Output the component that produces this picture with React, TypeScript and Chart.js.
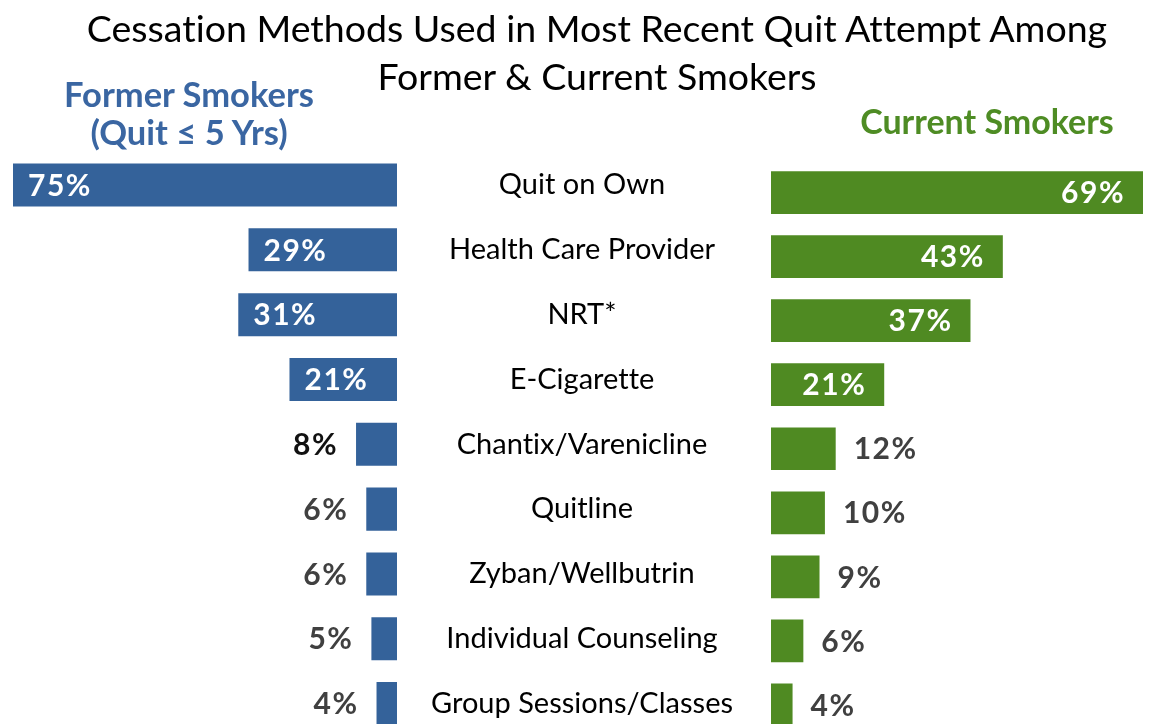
import React, { useEffect, useRef } from 'react';
import { Chart, registerables } from 'chart.js';

Chart.register(...registerables);

const categories = [
  'Quit on Own',
  'Health Care Provider',
  'NRT*',
  'E-Cigarette',
  'Chantix/Varenicline',
  'Quitline',
  'Zyban/Wellbutrin',
  'Individual Counseling',
  'Group Sessions/Classes',
];
const formerSmokers = [75, 29, 31, 21, 8, 6, 6, 5, 4];
const currentSmokers = [69, 43, 37, 21, 12, 10, 9, 6, 4];

const titleLines = ['Cessation Methods Used in Most Recent Quit Attempt Among', 'Former & Current Smokers'];
const formerHeader = ['Former Smokers', '(Quit \u2264 5 Yrs)'];
const currentHeader = 'Current Smokers';

const BLUE = '#34629A';
const BLUE_TEXT = '#3A66A2';
const GREEN = '#4F8A22';
const GREEN_TEXT = '#4E8C24';
const LABEL_FONT = 'bold 30px Lato';
const CAT_FONT_SIZE = 29;

const noLigatures = {
  id: 'noLigatures',
  beforeDraw(chart: any) {
    const ctx = chart.ctx as any;
    ctx.textRendering = 'optimizeSpeed';
    ctx.letterSpacing = '0.01px';
  },
};

const valueLabels = {
  id: 'valueLabels',
  afterDatasetsDraw(chart: any, _args: any, opts: any) {
    const { ctx } = chart;
    const meta = chart.getDatasetMeta(0);
    const data = chart.data.datasets[0].data as number[];
    ctx.save();
    ctx.font = LABEL_FONT;
    (ctx as any).letterSpacing = '1.5px';
    ctx.textBaseline = 'middle';
    meta.data.forEach((bar: any, i: number) => {
      const v = data[i];
      const text = v + '%';
      const inside = v >= 15;
      const y = bar.y + 1;
      if (opts.side === 'left') {
        if (inside) {
          ctx.fillStyle = '#FFFFFF';
          ctx.textAlign = 'left';
          ctx.fillText(text, bar.x + 15, y);
        } else {
          ctx.fillStyle = opts.outsideColors[i];
          ctx.textAlign = 'right';
          ctx.fillText(text, bar.x - 18, y);
        }
      } else {
        if (inside) {
          ctx.fillStyle = '#FFFFFF';
          ctx.textAlign = 'right';
          ctx.fillText(text, bar.x - 18, y);
        } else {
          ctx.fillStyle = opts.outsideColors[i];
          ctx.textAlign = 'left';
          ctx.fillText(text, bar.x + 18, y);
        }
      }
    });
    ctx.restore();
  },
};

const formerOutsideColors = ['#404040', '#404040', '#404040', '#404040', '#111111', '#404040', '#404040', '#404040', '#404040'];
const currentOutsideColors = ['#404040', '#404040', '#404040', '#404040', '#404040', '#404040', '#404040', '#404040', '#404040'];

export default function App() {
  const leftRef = useRef<HTMLCanvasElement>(null);
  const rightRef = useRef<HTMLCanvasElement>(null);

  useEffect(() => {
    const mctx = document.createElement('canvas').getContext('2d')! as any;
    mctx.font = `${CAT_FONT_SIZE}px Lato`;
    mctx.textRendering = 'optimizeSpeed';
    const widest = Math.max(...categories.map((c) => mctx.measureText(c).width));
    const labelCenterOffset = 185; // distance from bar baseline to label centre
    const tickPad = Math.max(0, labelCenterOffset - widest / 2);

    const left = new Chart(leftRef.current!, {
      type: 'bar',
      data: {
        labels: categories,
        datasets: [
          {
            data: formerSmokers,
            backgroundColor: BLUE,
            barPercentage: 0.664,
            categoryPercentage: 1,
          },
        ],
      },
      options: {
        indexAxis: 'y',
        animation: false,
        responsive: false,
        events: [],
        layout: { padding: { left: 13, top: 152.6, right: 0, bottom: 0 } },
        scales: {
          x: { type: 'linear', min: 0, max: 75, reverse: true, display: false },
          y: {
            position: 'right',
            grid: { display: false, drawTicks: false },
            border: { display: false },
            ticks: {
              crossAlign: 'center',
              padding: tickPad,
              color: '#000000',
              font: { family: 'Lato', size: CAT_FONT_SIZE },
            },
            afterFit: (s: any) => {
              s.width = 374;
              s.paddingTop = 0;
              s.paddingBottom = 0;
            },
          },
        },
        plugins: {
          legend: { display: false },
          tooltip: { enabled: false },
          valueLabels: { side: 'left', outsideColors: formerOutsideColors },
        } as any,
      },
      plugins: [noLigatures, valueLabels],
    });

    const right = new Chart(rightRef.current!, {
      type: 'bar',
      data: {
        labels: categories,
        datasets: [
          {
            data: currentSmokers,
            backgroundColor: GREEN,
            barPercentage: 0.667,
            categoryPercentage: 1,
          },
        ],
      },
      options: {
        indexAxis: 'y',
        animation: false,
        responsive: false,
        events: [],
        layout: { padding: { left: 0, top: 160.5, right: 8, bottom: 0 } },
        scales: {
          x: { type: 'linear', min: 0, max: 69, display: false },
          y: { display: false },
        },
        plugins: {
          legend: { display: false },
          tooltip: { enabled: false },
          valueLabels: { side: 'right', outsideColors: currentOutsideColors },
        } as any,
      },
      plugins: [noLigatures, valueLabels],
    });

    return () => {
      left.destroy();
      right.destroy();
    };
  }, []);

  const common = {
    position: 'absolute' as const,
    textAlign: 'center' as const,
    fontFamily: 'Lato',
    whiteSpace: 'nowrap' as const,
    fontVariantLigatures: 'none' as const,
  };

  return (
    <div
      style={{
        position: 'fixed',
        left: 0,
        top: 0,
        width: 1151,
        height: 724,
        overflow: 'hidden',
        background: '#FFFFFF',
      }}
    >
      <canvas
        ref={leftRef}
        width={771}
        height={736}
        style={{ position: 'absolute', left: 0, top: 0, width: 771, height: 736 }}
      />
      <canvas
        ref={rightRef}
        width={380}
        height={737}
        style={{ position: 'absolute', left: 771, top: 0, width: 380, height: 737 }}
      />
      <div
        style={{
          ...common,
          left: 597 - 560,
          width: 1120,
          top: 4,
          fontSize: 37.5,
          lineHeight: '48px',
          color: '#000000',
        }}
      >
        {titleLines.map((l) => (
          <div key={l}>{l}</div>
        ))}
      </div>
      <div
        style={{
          ...common,
          left: 189 - 180,
          width: 360,
          top: 75,
          fontWeight: 700,
          fontSize: 34.5,
          lineHeight: '38px',
          color: BLUE_TEXT,
        }}
      >
        {formerHeader.map((l) => (
          <div key={l}>{l}</div>
        ))}
      </div>
      <div
        style={{
          ...common,
          left: 987 - 180,
          width: 360,
          top: 102,
          fontWeight: 700,
          fontSize: 34,
          lineHeight: '38px',
          color: GREEN_TEXT,
        }}
      >
        {currentHeader}
      </div>
    </div>
  );
}
